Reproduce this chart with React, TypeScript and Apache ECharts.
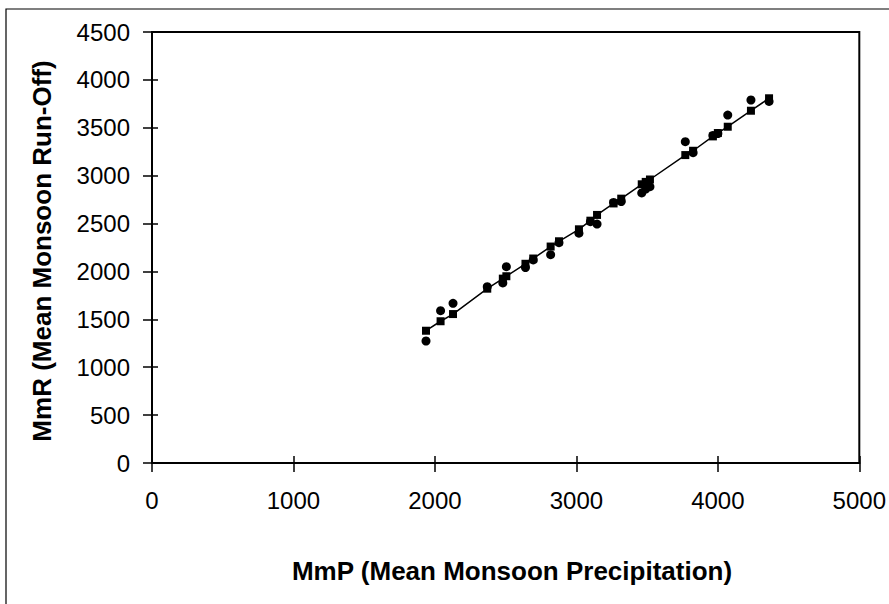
import React, { useEffect, useRef } from "react";
import * as echarts from "echarts";

// MmP (Mean Monsoon Precipitation) per station
const precipitation = [
  1937, 2040, 2128, 2370, 2480, 2505, 2640, 2695, 2818, 2877, 3018, 3099, 3146,
  3263, 3317, 3462, 3490, 3520, 3770, 3825, 3965, 4000, 4070, 4234, 4362,
];
// Observed MmR (circles)
const observedRunoff = [
  1274, 1590, 1667, 1840, 1880, 2050, 2040, 2120, 2175, 2300, 2400, 2520, 2495,
  2720, 2730, 2820, 2860, 2885, 3355, 3240, 3420, 3440, 3633, 3790, 3775,
];
// Computed MmR (squares on the fitted line)
const computedRunoff = [
  1381, 1480, 1555, 1820, 1925, 1950, 2080, 2135, 2260, 2315, 2440, 2530, 2590,
  2710, 2760, 2910, 2935, 2960, 3215, 3260, 3410, 3445, 3511, 3678, 3808,
];

const xTitle = "MmP (Mean Monsoon Precipitation)";
const yTitle = "MmR (Mean Monsoon Run-Off)";

const FONT = "'Liberation Sans', Arial, sans-serif";

export default function App() {
  const ref = useRef<HTMLDivElement>(null);
  useEffect(() => {
    document.body.style.margin = "0";
    if (!ref.current) return;
    const chart = echarts.init(ref.current, null, { renderer: "svg" });
    const grid = { left: 152, top: 32, width: 712, height: 431 };
    const labelStyle = {
      color: "#000",
      fontSize: 24,
      fontFamily: FONT,
      formatter: (v: number) => String(v),
    };
    chart.setOption({
      animation: false,
      backgroundColor: "#fff",
      grid: { ...grid, show: true, borderColor: "#000", borderWidth: 2, backgroundColor: "transparent" },
      xAxis: [
        {
          type: "value",
          min: 0,
          max: 5000,
          interval: 1000,
          splitLine: { show: false },
          axisLine: { show: true, onZero: false, lineStyle: { color: "#000", width: 2 } },
          axisTick: { show: true, inside: false, length: 9, lineStyle: { color: "#000", width: 1.5 } },
          axisLabel: { ...labelStyle, margin: 25 },
        },
        {
          type: "value",
          position: "bottom",
          min: 0,
          max: 5000,
          interval: 1000,
          splitLine: { show: false },
          axisLine: { show: false },
          axisTick: { show: true, inside: true, length: 7, lineStyle: { color: "#000", width: 1.5 } },
          axisLabel: { show: false },
        },
      ],
      yAxis: [
        {
          type: "value",
          min: 0,
          max: 4500,
          interval: 500,
          splitLine: { show: false },
          axisLine: { show: true, onZero: false, lineStyle: { color: "#000", width: 2 } },
          axisTick: { show: true, inside: false, length: 9, lineStyle: { color: "#000", width: 1.5 } },
          axisLabel: { ...labelStyle, margin: 22 },
        },
        {
          type: "value",
          position: "left",
          min: 0,
          max: 4500,
          interval: 500,
          splitLine: { show: false },
          axisLine: { show: false },
          axisTick: { show: true, inside: true, length: 6, lineStyle: { color: "#000", width: 1.5 } },
          axisLabel: { show: false },
        },
      ],
      series: [
        {
          name: "Computed",
          type: "line",
          data: precipitation.map((x, i) => [x, computedRunoff[i]]),
          symbol: "rect",
          symbolSize: 8,
          showSymbol: true,
          lineStyle: { color: "#000", width: 1.5 },
          itemStyle: { color: "#000", opacity: 1 },
          z: 3,
        },
        {
          name: "Observed",
          type: "scatter",
          data: precipitation.map((x, i) => [x, observedRunoff[i]]),
          symbol: "circle",
          symbolSize: 9,
          itemStyle: { color: "#000", opacity: 1 },
          z: 4,
        },
      ],
      graphic: [
        {
          type: "rect",
          shape: { x: 6, y: 9, width: 1000, height: 1000 },
          style: { fill: "none", stroke: "#000", lineWidth: 1.2 },
          silent: true,
        },
        {
          type: "text",
          x: 512,
          y: 571,
          style: {
            text: xTitle,
            fill: "#000",
            font: `bold 26px ${FONT}`,
            textAlign: "center",
            textVerticalAlign: "middle",
          },
        },
        {
          type: "text",
          x: 42,
          y: 251,
          rotation: Math.PI / 2,
          style: {
            text: yTitle,
            fill: "#000",
            font: `bold 26px ${FONT}`,
            textAlign: "center",
            textVerticalAlign: "middle",
          },
        },
      ],
    });
    return () => chart.dispose();
  }, []);
  return <div ref={ref} style={{ width: 889, height: 604 }} />;
}
